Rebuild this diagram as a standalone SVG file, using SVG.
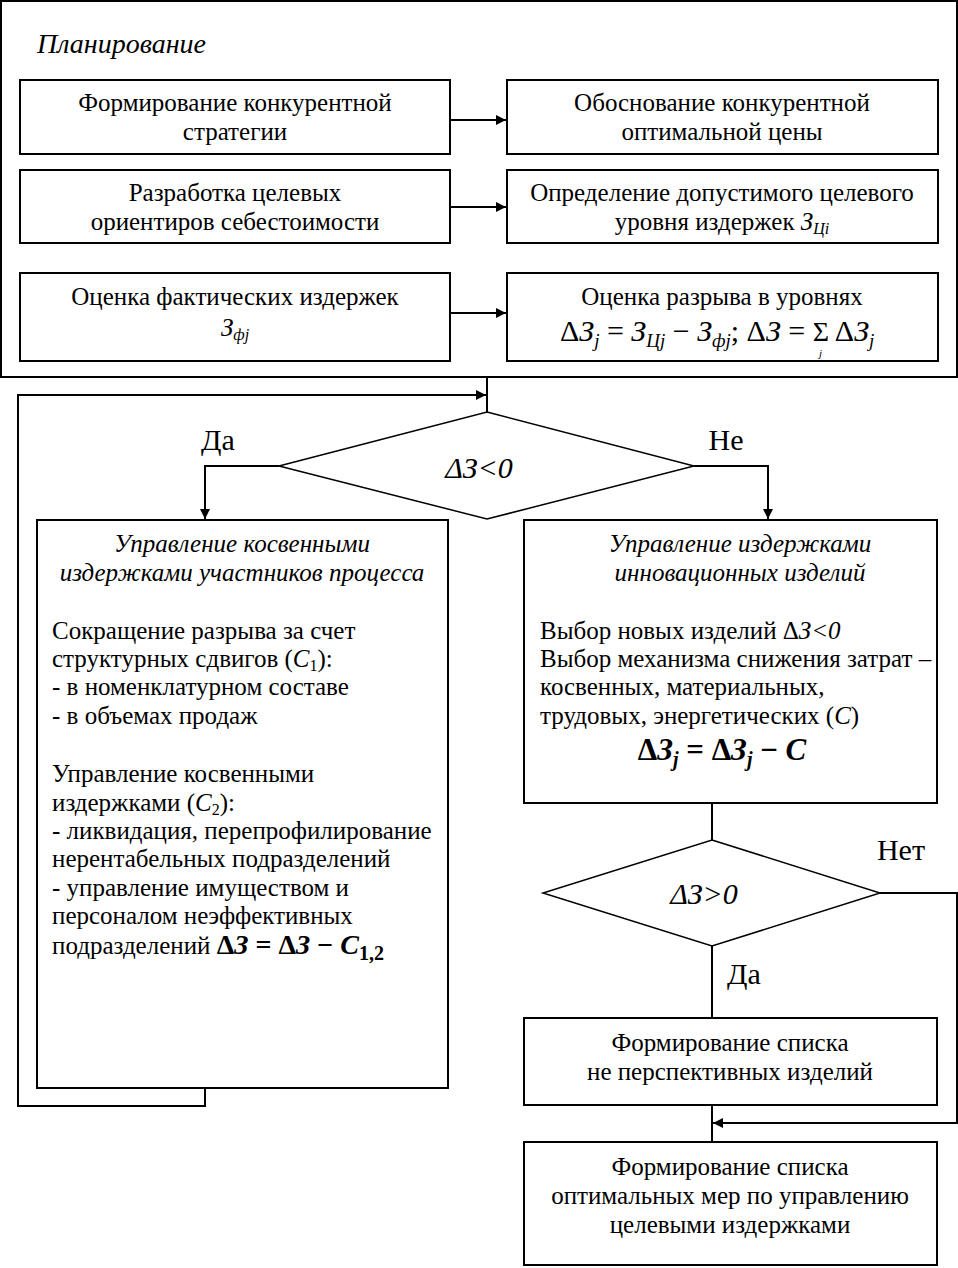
<svg xmlns="http://www.w3.org/2000/svg" width="958" height="1268" viewBox="0 0 958 1268">
<defs>
<marker id="ah" viewBox="0 0 10 10" refX="10" refY="5" markerWidth="10" markerHeight="10" markerUnits="userSpaceOnUse" orient="auto">
<path d="M0,0 L10,5 L0,10 z" fill="#000"/>
</marker>
<style>
text{font-family:"Liberation Serif","Times New Roman",serif;fill:#000}
.t{font-size:25px;text-anchor:middle}
.b{font-size:25px}
.h{font-size:25px;font-style:italic;text-anchor:middle}
.i{font-style:italic}
.l{font-size:30px;text-anchor:middle}
.box{fill:#fff;stroke:#000;stroke-width:2}
.dm{fill:#fff;stroke:#000;stroke-width:1.5}
.c{fill:none;stroke:#000;stroke-width:2}
.f{font-size:30px}
.fb{font-size:31px;font-weight:bold}
</style>
</defs>
<g id="planning">
<rect x="1" y="1" width="956" height="376" fill="#fff" stroke="#000" stroke-width="2"/>
<text x="37" y="53" class="i" font-size="28">Планирование</text>
</g>
<g id="n1"><rect class="box" x="20" y="80" width="430" height="74"/>
<text class="t" x="235" y="111">Формирование конкурентной</text><text class="t" x="235" y="140">стратегии</text></g>
<g id="n2"><rect class="box" x="507" y="80" width="431" height="74"/>
<text class="t" x="722" y="111">Обоснование конкурентной</text><text class="t" x="722" y="140">оптимальной цены</text></g>
<g id="n3"><rect class="box" x="20" y="170" width="430" height="73"/>
<text class="t" x="235" y="201">Разработка целевых</text><text class="t" x="235" y="230">ориентиров себестоимости</text></g>
<g id="n4"><rect class="box" x="507" y="170" width="431" height="73"/>
<text class="t" x="722" y="201">Определение допустимого целевого</text><text class="t" x="722" y="230">уровня издержек <tspan class="i">З</tspan><tspan class="i" font-size="16" dy="4">Цi</tspan></text></g>
<g id="n5"><rect class="box" x="20" y="273" width="430" height="88"/>
<text class="t" x="235" y="305">Оценка фактических издержек</text><text class="t" x="235" y="336"><tspan class="i">З</tspan><tspan class="i" font-size="16" dy="4">фj</tspan></text></g>
<g id="n6"><rect class="box" x="507" y="273" width="431" height="88"/>
<text class="t" x="722" y="305">Оценка разрыва в уровнях</text>
<text class="f" x="560" y="341">Δ<tspan class="i">З</tspan><tspan class="i" font-size="19" dy="6">j</tspan><tspan dy="-6"> = </tspan><tspan class="i">З</tspan><tspan class="i" font-size="19" dy="6">Цj</tspan><tspan dy="-6"> − </tspan><tspan class="i">З</tspan><tspan class="i" font-size="19" dy="6">фj</tspan><tspan dy="-6">; Δ</tspan><tspan class="i">З</tspan><tspan> = </tspan><tspan font-size="28">Σ</tspan><tspan> Δ</tspan><tspan class="i">З</tspan><tspan class="i" font-size="19" dy="6">j</tspan></text>
<text class="i" font-size="11" x="819" y="357">j</text></g>
<g id="d1"><polygon class="dm" points="487,412 694,466 487,519 279,466"/>
<text class="l i" x="479" y="478">ΔЗ&lt;0</text></g>
<g id="n7"><rect class="box" x="37" y="520" width="411" height="568"/>
<text class="h" x="242" y="552">Управление косвенными</text>
<text class="h" x="242" y="581">издержками участников процесса</text>
<text class="b" x="52" y="639">Сокращение разрыва за счет</text>
<text class="b" x="52" y="667">структурных сдвигов (<tspan class="i">C</tspan><tspan font-size="16" dy="4">1</tspan><tspan dy="-4">):</tspan></text>
<text class="b" x="52" y="695">- в номенклатурном составе</text>
<text class="b" x="52" y="724">- в объемах продаж</text>
<text class="b" x="52" y="782">Управление косвенными</text>
<text class="b" x="52" y="811">издержками (<tspan class="i">C</tspan><tspan font-size="16" dy="4">2</tspan><tspan dy="-4">):</tspan></text>
<text class="b" x="52" y="839">- ликвидация, перепрофилирование</text>
<text class="b" x="52" y="867">нерентабельных подразделений</text>
<text class="b" x="52" y="896">- управление имуществом и</text>
<text class="b" x="52" y="924">персоналом неэффективных</text>
<text class="b" x="52" y="954">подразделений <tspan font-weight="bold" font-size="28">Δ<tspan class="i">З</tspan> = Δ<tspan class="i">З</tspan> − <tspan class="i">C</tspan><tspan font-size="20" dy="6">1,2</tspan></tspan></text></g>
<g id="n8"><rect class="box" x="524" y="520" width="413" height="283"/>
<text class="h" x="740" y="552">Управление издержками</text>
<text class="h" x="740" y="581">инновационных изделий</text>
<text class="b" x="540" y="639">Выбор новых изделий Δ<tspan class="i">З&lt;0</tspan></text>
<text class="b" x="540" y="667">Выбор механизма снижения затрат –</text>
<text class="b" x="540" y="695">косвенных, материальных,</text>
<text class="b" x="540" y="724">трудовых, энергетических (<tspan class="i">C</tspan>)</text>
<text class="fb" x="722" y="760" text-anchor="middle">Δ<tspan class="i">З</tspan><tspan class="i" font-size="20" dy="6">j</tspan><tspan dy="-6"> = Δ</tspan><tspan class="i">З</tspan><tspan class="i" font-size="20" dy="6">j</tspan><tspan dy="-6">  − </tspan><tspan class="i">C</tspan></text></g>
<g id="d2"><polygon class="dm" points="712,840 880,893 712,946 543,893"/>
<text class="l i" x="704" y="904">ΔЗ&gt;0</text></g>
<g id="n9"><rect class="box" x="524" y="1018" width="413" height="87"/>
<text class="t" x="730" y="1051">Формирование списка</text><text class="t" x="730" y="1080">не перспективных изделий</text></g>
<g id="n10"><rect class="box" x="524" y="1142" width="413" height="123"/>
<text class="t" x="730" y="1175">Формирование списка</text><text class="t" x="730" y="1204">оптимальных мер по управлению</text><text class="t" x="730" y="1233">целевыми издержками</text></g>
<g id="connectors">
<line class="c" x1="450" y1="120" x2="506" y2="120" marker-end="url(#ah)"/>
<line class="c" x1="450" y1="207" x2="506" y2="207" marker-end="url(#ah)"/>
<line class="c" x1="450" y1="313" x2="506" y2="313" marker-end="url(#ah)"/>
<line class="c" x1="487" y1="377" x2="487" y2="412"/>
<polyline class="c" points="205,1088 205,1106 18,1106 18,395 486,395" marker-end="url(#ah)"/>
<polyline class="c" points="279,466 205,466 205,519" marker-end="url(#ah)"/>
<polyline class="c" points="694,466 768,466 768,519" marker-end="url(#ah)"/>
<line class="c" x1="712" y1="803" x2="712" y2="840"/>
<line class="c" x1="712" y1="946" x2="712" y2="1018"/>
<polyline class="c" points="880,893 957,893 957,1123 713,1123" marker-end="url(#ah)"/>
<line class="c" x1="712" y1="1105" x2="712" y2="1142"/>
<text class="l" x="218" y="450">Да</text>
<text class="l" x="726" y="450">Не</text>
<text class="l" x="901" y="860">Нет</text>
<text class="l" x="744" y="984">Да</text>
</g>
</svg>
